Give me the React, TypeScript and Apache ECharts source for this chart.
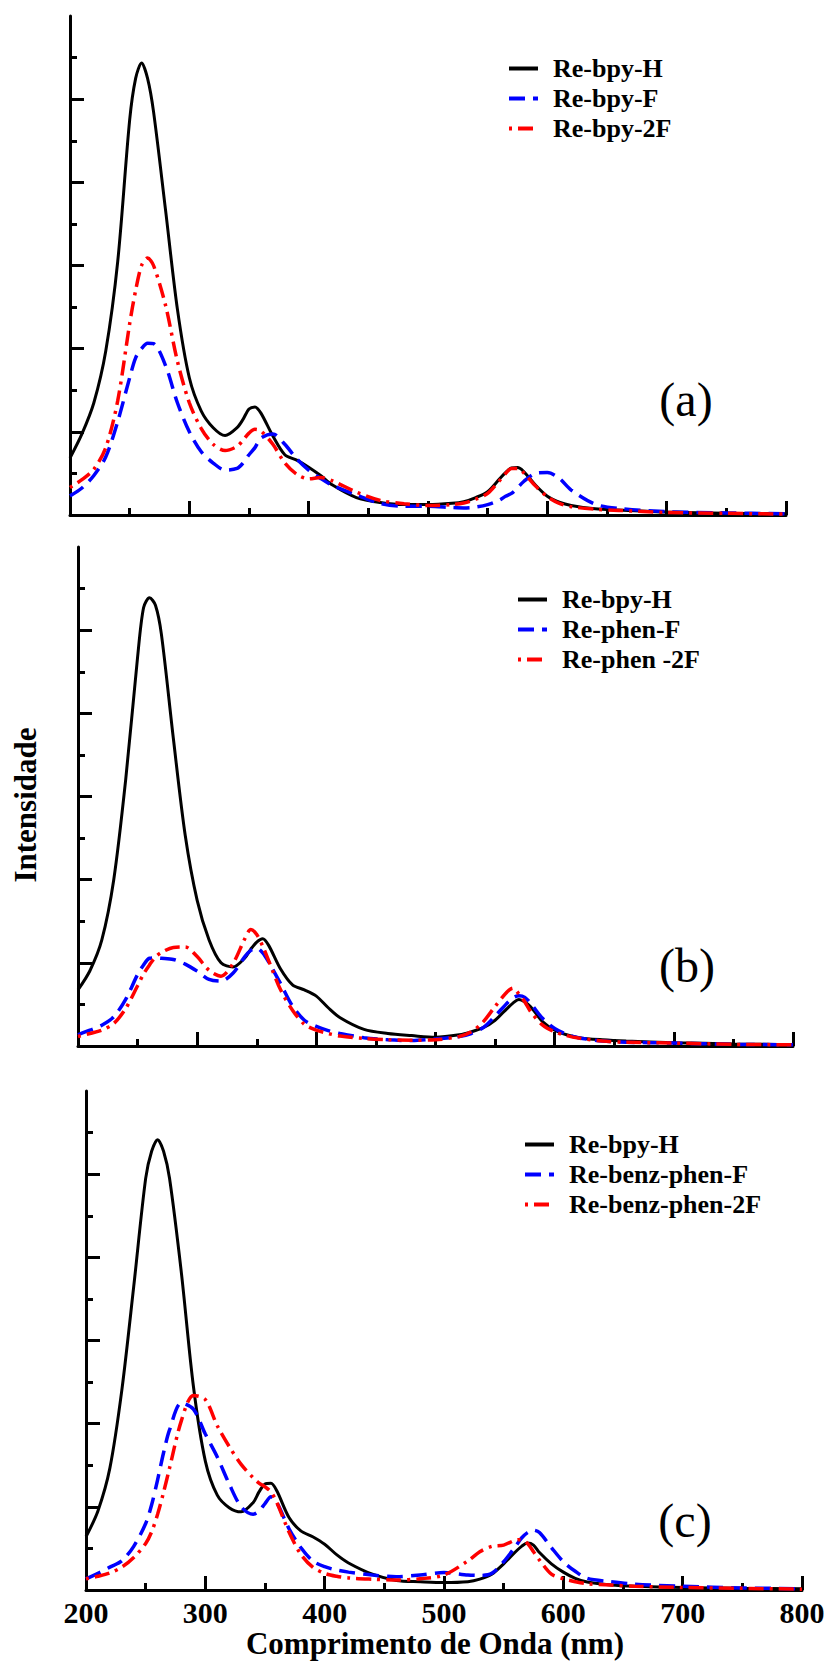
import React, { useEffect, useRef } from "react";
import * as echarts from "echarts";

// Wavelength grid (nm)
const W = [200, 210, 220, 230, 240, 250, 255, 260, 265, 270, 280, 290, 300, 310, 320, 330, 340, 345, 350, 355, 360, 370, 380, 390, 400, 410, 420, 440, 460, 480, 500, 520, 530, 540, 550, 560, 565, 570, 575, 580, 590, 600, 610, 620, 640, 660, 700, 750, 800];

// Panel (a)
const A_H = [1.37, 1.95, 2.7, 3.95, 6.1, 9.5, 10.5, 10.87, 10.5, 9.7, 7.35, 4.95, 3.3, 2.5, 2.1, 1.91, 2.1, 2.3, 2.55, 2.6, 2.45, 1.9, 1.45, 1.32, 1.15, 0.95, 0.72, 0.42, 0.3, 0.25, 0.25, 0.28, 0.32, 0.42, 0.56, 0.87, 1.02, 1.13, 1.14, 1.05, 0.72, 0.45, 0.31, 0.23, 0.15, 0.12, 0.07, 0.04, 0.03];
const A_F = [0.46, 0.65, 0.95, 1.4, 2.25, 3.3, 3.78, 4.0, 4.13, 4.12, 3.6, 2.7, 2.0, 1.52, 1.25, 1.08, 1.12, 1.25, 1.45, 1.62, 1.85, 1.95, 1.7, 1.35, 1.08, 0.88, 0.71, 0.48, 0.28, 0.21, 0.21, 0.18, 0.17, 0.19, 0.25, 0.36, 0.45, 0.52, 0.65, 0.8, 1.0, 1.02, 0.88, 0.6, 0.26, 0.16, 0.08, 0.05, 0.03];
const A_2F = [0.66, 0.85, 1.1, 1.62, 2.75, 4.6, 5.4, 6.0, 6.18, 6.0, 5.05, 3.7, 2.7, 2.08, 1.7, 1.55, 1.65, 1.8, 1.97, 2.06, 2.02, 1.7, 1.25, 0.98, 0.87, 0.9, 0.82, 0.55, 0.35, 0.27, 0.23, 0.25, 0.29, 0.38, 0.52, 0.83, 1.0, 1.12, 1.12, 1.02, 0.7, 0.44, 0.28, 0.2, 0.14, 0.11, 0.06, 0.04, 0.02];

// Panel (b)
const B_H = [1.35, 1.81, 2.55, 4.0, 6.4, 9.35, 10.54, 10.78, 10.6, 9.9, 7.4, 5.06, 3.5, 2.55, 2.0, 1.9, 2.12, 2.33, 2.5, 2.58, 2.42, 1.85, 1.47, 1.35, 1.2, 0.92, 0.68, 0.4, 0.3, 0.25, 0.21, 0.27, 0.34, 0.44, 0.62, 0.9, 1.03, 1.12, 1.06, 0.94, 0.58, 0.38, 0.27, 0.2, 0.15, 0.12, 0.08, 0.05, 0.03];
const B_F = [0.27, 0.38, 0.5, 0.7, 1.12, 1.72, 1.95, 2.11, 2.12, 2.11, 2.08, 1.97, 1.8, 1.6, 1.56, 1.75, 2.15, 2.3, 2.35, 2.24, 2.02, 1.5, 0.96, 0.62, 0.47, 0.37, 0.3, 0.2, 0.15, 0.13, 0.17, 0.23, 0.3, 0.44, 0.72, 1.03, 1.16, 1.21, 1.17, 1.02, 0.66, 0.42, 0.28, 0.2, 0.12, 0.09, 0.07, 0.04, 0.03];
const B_2F = [0.23, 0.3, 0.38, 0.54, 0.9, 1.45, 1.73, 1.95, 2.14, 2.25, 2.37, 2.38, 2.15, 1.82, 1.68, 1.98, 2.58, 2.8, 2.68, 2.4, 2.05, 1.35, 0.86, 0.52, 0.38, 0.3, 0.24, 0.18, 0.15, 0.14, 0.15, 0.23, 0.34, 0.58, 0.95, 1.3, 1.39, 1.25, 1.06, 0.82, 0.5, 0.34, 0.25, 0.19, 0.12, 0.09, 0.07, 0.04, 0.03];

// Panel (c)
const C_H = [1.28, 1.9, 2.93, 4.8, 7.3, 9.9, 10.55, 10.83, 10.55, 9.9, 7.61, 4.9, 3.1, 2.28, 1.98, 1.88, 2.1, 2.36, 2.55, 2.57, 2.38, 1.75, 1.42, 1.28, 1.1, 0.85, 0.65, 0.38, 0.23, 0.2, 0.18, 0.2, 0.26, 0.38, 0.63, 0.92, 1.05, 1.13, 1.08, 0.9, 0.63, 0.43, 0.28, 0.19, 0.12, 0.09, 0.06, 0.04, 0.03];
const C_F = [0.27, 0.4, 0.55, 0.7, 1.05, 1.6, 2.05, 2.65, 3.3, 3.85, 4.5, 4.35, 3.75, 3.2, 2.55, 2.0, 1.82, 1.9, 2.08, 2.24, 2.1, 1.48, 1.02, 0.7, 0.56, 0.48, 0.43, 0.36, 0.32, 0.36, 0.42, 0.36, 0.35, 0.4, 0.68, 1.05, 1.25, 1.38, 1.44, 1.38, 1.02, 0.68, 0.45, 0.28, 0.2, 0.14, 0.09, 0.05, 0.03];
const C_2F = [0.27, 0.33, 0.41, 0.55, 0.78, 1.12, 1.4, 1.82, 2.35, 2.93, 4.08, 4.68, 4.58, 3.95, 3.45, 3.02, 2.7, 2.57, 2.48, 2.36, 2.1, 1.4, 0.86, 0.55, 0.4, 0.33, 0.29, 0.26, 0.24, 0.27, 0.36, 0.7, 0.92, 1.05, 1.08, 1.2, 1.21, 1.12, 0.92, 0.72, 0.38, 0.27, 0.2, 0.15, 0.12, 0.09, 0.06, 0.04, 0.02];

const NAMES_A = ["Re-bpy-H", "Re-bpy-F", "Re-bpy-2F"];
const NAMES_B = ["Re-bpy-H", "Re-phen-F", "Re-phen -2F"];
const NAMES_C = ["Re-bpy-H", "Re-benz-phen-F", "Re-benz-phen-2F"];
const PANEL_TAGS = ["(a)", "(b)", "(c)"];
const X_TICK_MIN = 200;
const X_TICK_MAX = 800;
const Y_MAJOR = [2, 4, 6, 8, 10];
const Y_MINOR = [1, 3, 5, 7, 9, 11];

const FONT = "'Liberation Serif', 'Times New Roman', serif";

const toPairs = (ys: number[]) => W.map((w, i) => [w, ys[i]]);

export default function App() {
  const ref = useRef<HTMLDivElement>(null);

  useEffect(() => {
    if (!ref.current) return;
    const chart = echarts.init(ref.current, undefined, { renderer: "svg" });

    const grids = [
      { left: 70, top: 16, width: 716, height: 499 },
      { left: 78, top: 547, width: 715, height: 499 },
      { left: 86, top: 1091, width: 716, height: 499 },
    ];

    const axisLine = { show: true, lineStyle: { color: "#000", width: 3 } };

    const xAxis = grids.map((_, i) => ({
      type: "value",
      gridIndex: i,
      min: X_TICK_MIN,
      max: X_TICK_MAX,
      interval: 100,
      axisLine,
      axisTick: { show: true, inside: true, length: 14, lineStyle: { color: "#000", width: 3 } },
      minorTick: { show: true, splitNumber: 2, length: 7, lineStyle: { color: "#000", width: 3 } },
      splitLine: { show: false },
      minorSplitLine: { show: false },
      axisLabel: {
        show: i === 2,
        margin: 7,
        color: "#000",
        fontFamily: FONT,
        fontWeight: "bold",
        fontSize: 30,
      },
      name: i === 2 ? "Comprimento de Onda (nm)" : "",
      nameLocation: "middle",
      nameGap: 38,
      nameTextStyle: {
        color: "#000",
        fontFamily: FONT,
        fontWeight: "bold",
        fontSize: 31,
        padding: [0, 18, 0, 0],
      },
    }));

    const yAxis: any[] = [];
    grids.forEach((_, i) => {
      yAxis.push({
        type: "value",
        gridIndex: i,
        min: 0,
        max: 12,
        position: "left",
        axisLine,
        axisTick: { show: true, inside: true, length: 14, customValues: Y_MAJOR, lineStyle: { color: "#000", width: 3 } },
        axisLabel: { show: false },
        splitLine: { show: false },
      });
      yAxis.push({
        type: "value",
        gridIndex: i,
        min: 0,
        max: 12,
        position: "left",
        offset: 0,
        axisLine: { show: false },
        axisTick: { show: true, inside: true, length: 7, customValues: Y_MINOR, lineStyle: { color: "#000", width: 3 } },
        axisLabel: { show: false },
        splitLine: { show: false },
      });
    });

    const styles = [
      { color: "#000000", width: 3, type: "solid" },
      { color: "#0000ff", width: 3.5, type: [16, 8] },
      { color: "#ff0000", width: 3.5, type: [3, 6, 15, 6] },
    ];

    const panels = [
      { names: NAMES_A, data: [A_H, A_F, A_2F] },
      { names: NAMES_B, data: [B_H, B_F, B_2F] },
      { names: NAMES_C, data: [C_H, C_F, C_2F] },
    ];

    const series: any[] = [];
    panels.forEach((p, i) => {
      p.data.forEach((ys, k) => {
        series.push({
          name: p.names[k],
          type: "line",
          xAxisIndex: i,
          yAxisIndex: i * 2,
          data: toPairs(ys),
          smooth: 0.3,
          symbol: "none",
          showSymbol: false,
          lineStyle: styles[k],
          itemStyle: { color: styles[k].color },
          z: 2 + k,
        });
      });
    });

    const legendPos = [
      { left: 507, top: 55 },
      { left: 516, top: 586 },
      { left: 523, top: 1131 },
    ];

    const legend = panels.map((p, i) => ({
      data: p.names,
      orient: "vertical",
      left: legendPos[i].left,
      top: legendPos[i].top,
      padding: 0,
      itemWidth: 29,
      itemHeight: 2,
      itemGap: 3,
      selectedMode: false,
      itemStyle: { opacity: 0 },
      lineStyle: { width: 4 },
      textStyle: {
        color: "#000",
        fontFamily: FONT,
        fontWeight: "bold",
        fontSize: 26,
        lineHeight: 27,
        padding: [0, 0, 0, 10],
      },
    }));

    const tagPos = [
      { x: 686, y: 399 },
      { x: 687, y: 965 },
      { x: 685, y: 1520 },
    ];

    const graphic: any[] = PANEL_TAGS.map((t, i) => ({
      type: "text",
      x: tagPos[i].x,
      y: tagPos[i].y,
      style: {
        text: t,
        fill: "#000",
        font: "normal 48px 'Liberation Serif', 'Times New Roman', serif",
        align: "center",
        verticalAlign: "middle",
        textAlign: "center",
        textVerticalAlign: "middle",
      },
    }));
    graphic.push({
      type: "text",
      x: 25,
      y: 805,
      rotation: Math.PI / 2,
      style: {
        text: "Intensidade",
        fill: "#000",
        font: "bold 31px 'Liberation Serif', 'Times New Roman', serif",
        align: "center",
        verticalAlign: "middle",
        textAlign: "center",
        textVerticalAlign: "middle",
      },
    });

    chart.setOption({
      animation: false,
      backgroundColor: "#fff",
      textStyle: { fontFamily: FONT },
      grid: grids,
      xAxis,
      yAxis,
      legend,
      series,
      graphic,
    });

    return () => chart.dispose();
  }, []);

  return (
    <div
      ref={ref}
      style={{ position: "absolute", left: 0, top: 0, width: 829, height: 1666 }}
    />
  );
}
